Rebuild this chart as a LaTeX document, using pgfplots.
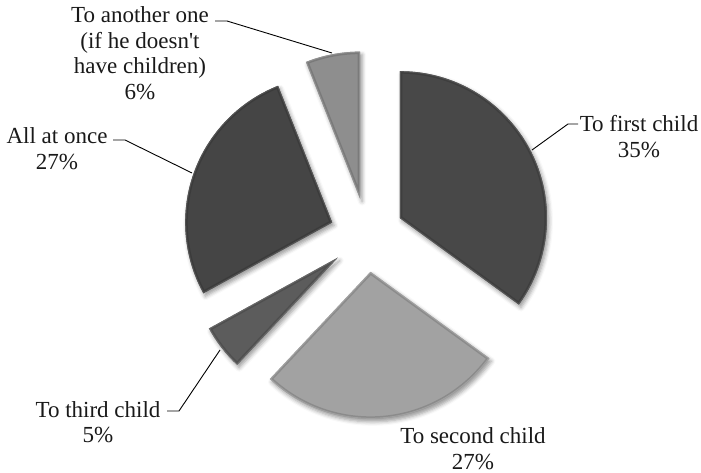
\documentclass[border=0pt]{standalone}
\usepackage{pgfplots}
\pgfplotsset{compat=1.18}
\usepackage{fontspec}
\setmainfont{Liberation Serif}
\newfontfamily\labfont{Liberation Serif}
\usetikzlibrary{shadows.blur}
\definecolor{cFirst}{HTML}{484848}
\definecolor{cSecond}{HTML}{A2A2A2}
\definecolor{cThird}{HTML}{5C5C5C}
\definecolor{cAll}{HTML}{454545}
\definecolor{cOther}{HTML}{8E8E8E}
% pie centre (axis units = pt), explode distance, radius
\def\pcx{367}\def\pcy{238}\def\pexp{37}\def\prad{147}
\newcommand\pieslice[3]{% #1 cumulative start (%), #2 share (%), #3 colour
  \pgfmathsetmacro\aS{90-3.6*(#1)}%
  \pgfmathsetmacro\aE{90-3.6*((#1)+(#2))}%
  \pgfmathsetmacro\aM{(\aS+\aE)/2}%
  \pgfmathsetmacro\vx{\pcx+\pexp*cos(\aM)}%
  \pgfmathsetmacro\vy{\pcy+\pexp*sin(\aM)}%
  \fill[#3, blur shadow={shadow xshift=2pt, shadow yshift=-3pt, shadow blur radius=4pt, shadow opacity=40}]
    (axis cs:\vx,\vy) -- ++(\aS:\prad pt) arc[start angle=\aS, end angle=\aE, radius=\prad pt] -- cycle;
  \begin{scope}
  \clip (axis cs:\vx,\vy) -- ++(\aS:\prad pt) arc[start angle=\aS, end angle=\aE, radius=\prad pt] -- cycle;
  \draw[line width=5pt, #3!75!black, opacity=0.55] (axis cs:\vx,\vy) -- ++(\aS:\prad pt) arc[start angle=\aS, end angle=\aE, radius=\prad pt] -- cycle;
  \draw[line width=2pt, #3!80!white, opacity=0.5] (axis cs:\vx,\vy) -- ++(\aS:\prad pt) arc[start angle=\aS, end angle=\aE, radius=\prad pt] -- cycle;
  \end{scope}
}
\begin{document}
\begin{tikzpicture}
\begin{axis}[
  scale only axis, width=701pt, height=473pt,
  xmin=0, xmax=701, ymin=0, ymax=473,
  hide axis, clip=false,
]
% shares (%): first child 35, second child 27, third child 5, all at once 27, another one 6
\pgfplotsextra{
  \pieslice{0}{35}{cFirst}
  \pieslice{35}{27}{cSecond}
  \pieslice{62}{5}{cThird}
  \pieslice{67}{27}{cAll}
  \pieslice{94}{6}{cOther}
}
% leader lines
\addplot[black, line width=0.9pt] coordinates {(532,323) (568,349) (578,349)};
\addplot[black, line width=0.9pt] coordinates {(220,123) (179,62) (167,62)};
\addplot[black, line width=0.9pt] coordinates {(113,333) (125,333) (192,300)};
\addplot[black, line width=0.9pt] coordinates {(215,452) (227,452) (332,420)};
% labels
\begin{scope}[every node/.style={align=center, inner sep=0pt, font=\labfont\fontsize{23}{25.5}\selectfont, text=black!90}]
\node at (axis cs:639,336.5) {To first child\\35\%};
\node at (axis cs:473,24.5) {To second child\\27\%};
\node at (axis cs:98,51) {To third child\\5\%};
\node at (axis cs:57,324.5) {All at once\\27\%};
\node at (axis cs:140,420) {To another one\\(if he doesn\textquotesingle t\\have children)\\6\%};
\end{scope}
\end{axis}
\pgfresetboundingbox
\path[use as bounding box] (current axis.south west) rectangle (current axis.north east);
\end{tikzpicture}
\end{document}
